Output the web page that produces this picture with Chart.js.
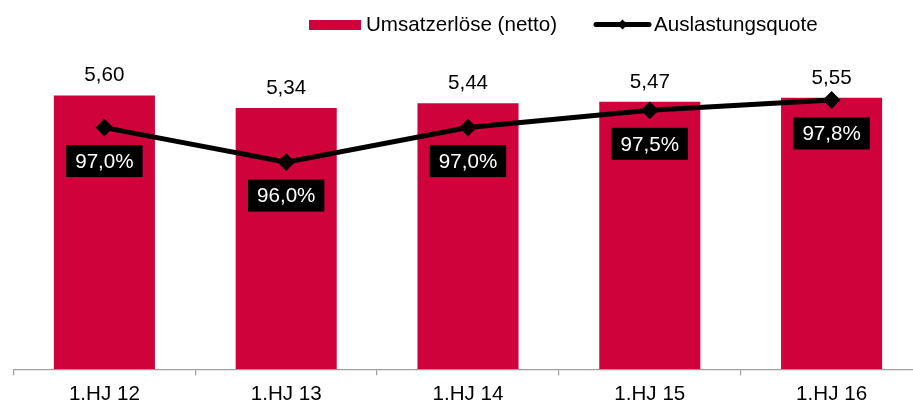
<!DOCTYPE html>
<html>
<head>
<meta charset="utf-8">
<script src="https://cdn.jsdelivr.net/npm/chart.js@4.4.1/dist/chart.umd.min.js"></script>
<style>
  html, body { margin: 0; padding: 0; background: #fff; overflow: hidden; width: 913px; height: 403px; }
  #wrap { position: absolute; left: 0; top: 0; width: 923px; height: 403px; }
  canvas { display: block; }
</style>
</head>
<body>
<div id="wrap"><canvas id="c" width="923" height="403"></canvas></div>
<script>
const categories = ['1.HJ 12', '1.HJ 13', '1.HJ 14', '1.HJ 15', '1.HJ 16'];
const umsatzerloese = [5.60, 5.34, 5.44, 5.47, 5.55];
const auslastungsquote = [97.0, 96.0, 97.0, 97.5, 97.8];
const seriesNames = ['Umsatzerlöse (netto)', 'Auslastungsquote'];

const RED = '#CF023B';
const FONT = '"Liberation Sans", Arial, sans-serif';
const FS = 20.6;

const fmtDE = (v, d) => v.toFixed(d).replace('.', ',');

const labelPlugin = {
  id: 'valueLabels',
  afterDatasetsDraw(chart) {
    const ctx = chart.ctx;
    ctx.save();
    ctx.font = FS + 'px ' + FONT;
    ctx.textAlign = 'center';
    const barMeta = chart.getDatasetMeta(0);
    barMeta.data.forEach((el, i) => {
      ctx.fillStyle = '#000';
      ctx.textBaseline = 'alphabetic';
      ctx.fillText(fmtDE(umsatzerloese[i], 2), el.x, el.y - 14);
    });
    const lineMeta = chart.getDatasetMeta(1);
    lineMeta.data.forEach((el, i) => {
      const txt = fmtDE(auslastungsquote[i], 1) + '%';
      const w = ctx.measureText(txt).width + 18;
      const h = 32;
      const cy = el.y + 33.5;
      ctx.fillStyle = '#000';
      ctx.fillRect(el.x - w / 2, cy - h / 2, w, h);
      ctx.fillStyle = '#fff';
      ctx.textBaseline = 'middle';
      ctx.fillText(txt, el.x, cy + 1);
    });
    ctx.restore();
  },
  afterDraw(chart) {
    const ctx = chart.ctx;
    ctx.save();
    ctx.font = FS + 'px ' + FONT;
    ctx.textBaseline = 'alphabetic';
    ctx.textAlign = 'left';
    ctx.fillStyle = RED;
    ctx.fillRect(309, 20, 52, 10);
    ctx.fillStyle = '#000';
    ctx.fillText(chart.data.datasets[0].label, 366, 31);
    ctx.strokeStyle = '#000';
    ctx.lineWidth = 5;
    ctx.lineCap = 'round';
    ctx.beginPath();
    ctx.moveTo(596, 24.5);
    ctx.lineTo(649, 24.5);
    ctx.stroke();
    ctx.beginPath();
    ctx.moveTo(622.5 - 5, 24.5);
    ctx.lineTo(622.5, 24.5 - 5);
    ctx.lineTo(622.5 + 5, 24.5);
    ctx.lineTo(622.5, 24.5 + 5);
    ctx.closePath();
    ctx.fillStyle = '#000';
    ctx.fill();
    ctx.fillText(chart.data.datasets[1].label, 654, 31);
    ctx.restore();
  }
};

new Chart(document.getElementById('c'), {
  type: 'bar',
  data: {
    labels: categories,
    datasets: [
      {
        type: 'bar',
        label: seriesNames[0],
        data: umsatzerloese,
        backgroundColor: RED,
        borderWidth: 0,
        yAxisID: 'y',
        order: 1,
        categoryPercentage: 1.0,
        barPercentage: 0.556
      },
      {
        type: 'line',
        label: seriesNames[1],
        data: auslastungsquote,
        borderColor: '#000',
        backgroundColor: '#000',
        borderWidth: 5,
        pointStyle: 'rectRot',
        pointRadius: 7.5,
        pointBorderWidth: 2,
        pointBackgroundColor: '#000',
        pointBorderColor: '#000',
        tension: 0,
        yAxisID: 'y2',
        order: 0,
        clip: false
      }
    ]
  },
  options: {
    responsive: false,
    animation: false,
    devicePixelRatio: 1,
    layout: { autoPadding: false, padding: { left: 13.5, right: 0.5, top: 24, bottom: 0 } },
    plugins: {
      legend: { display: false },
      tooltip: { enabled: false }
    },
    scales: {
      x: {
        afterFit(scale) {
          scale.height = 33.7;
          scale.paddingLeft = 0;
          scale.paddingRight = 0;
        },
        grid: {
          display: true,
          drawOnChartArea: false,
          drawTicks: true,
          tickLength: 6,
          color: '#A0A0A0',
          lineWidth: 1.25,
          offset: true
        },
        border: { display: true, color: '#A0A0A0', width: 1.25 },
        ticks: {
          color: '#000',
          padding: 11,
          font: { family: FONT, size: FS, lineHeight: 0.8 },
          maxRotation: 0
        }
      },
      y: {
        display: false,
        min: 0,
        max: 7.06
      },
      y2: {
        display: false,
        position: 'right',
        min: 90,
        max: 100
      }
    }
  },
  plugins: [labelPlugin]
});
</script>
</body>
</html>
